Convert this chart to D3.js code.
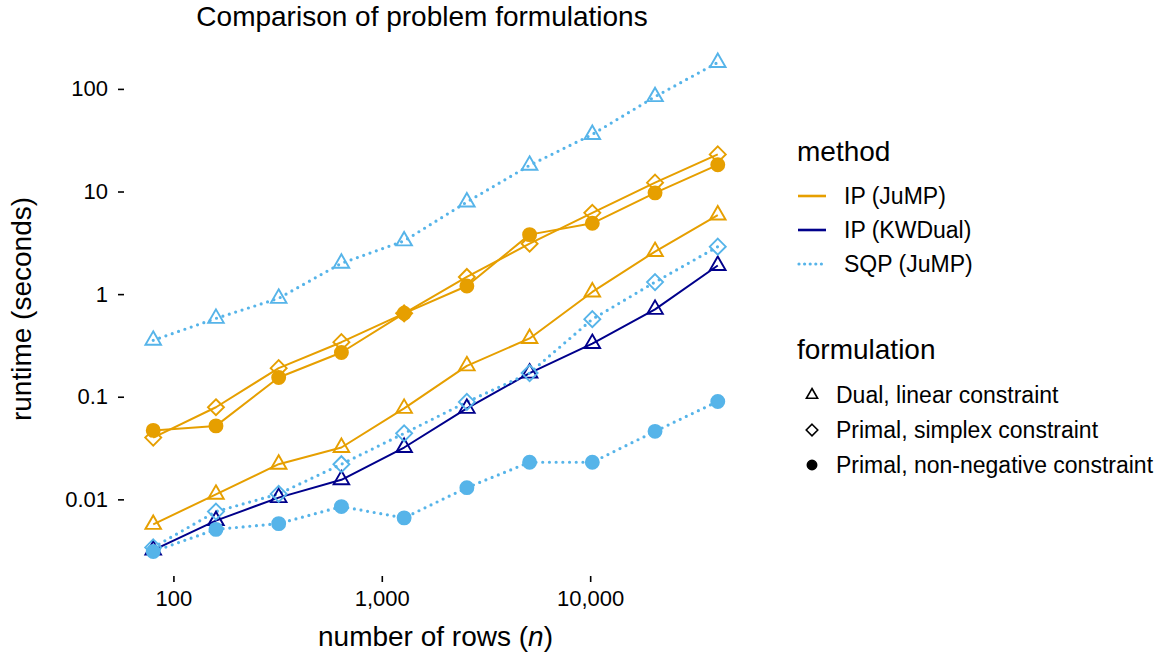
<!DOCTYPE html>
<html>
<head>
<meta charset="utf-8">
<script src="https://cdn.jsdelivr.net/npm/d3@7"></script>
<style>
  body { margin: 0; background: #fff; }
  svg text { font-family: "Liberation Sans", Arial, Helvetica, sans-serif; fill: #000; }
</style>
</head>
<body>
<div id="chart"></div>
<script>
const width = 1170
const height = 653

// number of rows n
const rows = [80, 160, 320, 640, 1280, 2560, 5120, 10240, 20480, 40960]

// runtime in seconds
const ipJumpDual     = [0.0057, 0.0112, 0.022, 0.032, 0.077, 0.20, 0.37, 1.05, 2.6, 5.9]
const ipJumpSimplex  = [0.040, 0.079, 0.19, 0.34, 0.65, 1.47, 3.1, 6.2, 12.2, 23]
const ipJumpNonneg   = [0.047, 0.052, 0.154, 0.27, 0.65, 1.2, 3.8, 4.9, 9.7, 18.2]
const ipKwDual       = [0.0032, 0.0062, 0.0104, 0.0155, 0.032, 0.077, 0.17, 0.33, 0.71, 1.9]
const sqpJumpDual    = [0.355, 0.58, 0.91, 2.0, 3.3, 7.9, 18, 36, 84, 181]
const sqpJumpSimplex = [0.0034, 0.0076, 0.0113, 0.022, 0.044, 0.089, 0.17, 0.57, 1.31, 2.9]
const sqpJumpNonneg  = [0.0031, 0.0051, 0.0058, 0.0085, 0.0066, 0.013, 0.023, 0.023, 0.046, 0.09]

const methods = ['IP (JuMP)', 'IP (KWDual)', 'SQP (JuMP)']
const formulations = ['Dual, linear constraint', 'Primal, simplex constraint', 'Primal, non-negative constraint']

const xTicks = [100, 1000, 10000]
const yTicks = [0.01, 0.1, 1, 10, 100]

const series = [
  { method: 'IP (JuMP)',   formulation: 'Dual, linear constraint',         values: ipJumpDual },
  { method: 'IP (JuMP)',   formulation: 'Primal, simplex constraint',      values: ipJumpSimplex },
  { method: 'IP (JuMP)',   formulation: 'Primal, non-negative constraint', values: ipJumpNonneg },
  { method: 'IP (KWDual)', formulation: 'Dual, linear constraint',         values: ipKwDual },
  { method: 'SQP (JuMP)',  formulation: 'Dual, linear constraint',         values: sqpJumpDual },
  { method: 'SQP (JuMP)',  formulation: 'Primal, simplex constraint',      values: sqpJumpSimplex },
  { method: 'SQP (JuMP)',  formulation: 'Primal, non-negative constraint', values: sqpJumpNonneg }
]

const panel = { left: 125, right: 746, top: 38, bottom: 576 }

const color = d3.scaleOrdinal().domain(methods).range(['#E69F00', '#00008B', '#56B4E9'])
const dash = d3.scaleOrdinal().domain(methods).range([null, null, '0 6.7'])
const lineWidth = d3.scaleOrdinal().domain(methods).range([2, 2, 3.2])

// log domain expanded by 5% each side, like ggplot does
const expandLog = (extent) => {
  const lo = Math.log10(extent[0]), hi = Math.log10(extent[1])
  const pad = (hi - lo) * 0.05
  return [Math.pow(10, lo - pad), Math.pow(10, hi + pad)]
}

const allValues = series.flatMap(s => s.values)
const x = d3.scaleLog().domain(expandLog(d3.extent(rows))).range([panel.left, panel.right])
const y = d3.scaleLog().domain(expandLog(d3.extent(allValues))).range([panel.bottom, panel.top])

const symbolPath = (formulation, s) => {
  if (formulation === 'Dual, linear constraint') {
    const r = s * 9
    return `M0,${-r}L${r * 0.866},${r / 2}L${-r * 0.866},${r / 2}Z`
  }
  if (formulation === 'Primal, simplex constraint') {
    const r = s * 8
    return `M0,${-r}L${r},0L0,${r}L${-r},0Z`
  }
  const r = s * 6.5
  return `M${r},0A${r},${r} 0 1,1 ${-r},0A${r},${r} 0 1,1 ${r},0Z`
}

const svg = d3.select('#chart').append('svg')
  .attr('width', width)
  .attr('height', height)

// title
svg.append('text')
  .attr('x', 422)
  .attr('y', 26)
  .attr('text-anchor', 'middle')
  .style('font-size', '28px')
  .text('Comparison of problem formulations')

// axes
const xAxis = d3.axisBottom(x)
  .tickValues(xTicks)
  .tickFormat(d3.format(','))
  .tickSize(6)
  .tickPadding(8)

const yAxis = d3.axisLeft(y)
  .tickValues(yTicks)
  .tickFormat(d => d3.format('~g')(d))
  .tickSize(6)
  .tickPadding(10)

const gx = svg.append('g')
  .attr('transform', `translate(0,${panel.bottom})`)
  .call(xAxis)
const gy = svg.append('g')
  .attr('transform', `translate(${panel.left - 1},0)`)
  .call(yAxis)

for (const g of [gx, gy]) {
  g.select('.domain').remove()
  g.selectAll('.tick line').attr('stroke', '#000').attr('stroke-width', 1.6)
  g.selectAll('.tick text')
    .attr('fill', '#000')
    .style('font-size', '22px')
    .style('font-family', '"Liberation Sans", Arial, sans-serif')
}

// axis titles
const xTitle = svg.append('text')
  .attr('x', (panel.left + panel.right) / 2)
  .attr('y', 646)
  .attr('text-anchor', 'middle')
  .style('font-size', '28px')
xTitle.append('tspan').text('number of rows (')
xTitle.append('tspan').style('font-style', 'italic').text('n')
xTitle.append('tspan').text(')')

svg.append('text')
  .attr('transform', `translate(31,${(panel.top + panel.bottom) / 2 + 2}) rotate(-90)`)
  .attr('text-anchor', 'middle')
  .style('font-size', '28px')
  .text('runtime (seconds)')

// lines
const line = d3.line()
  .x((d, i) => x(rows[i]))
  .y(d => y(d))

svg.append('g')
  .selectAll('path')
  .data(series)
  .enter()
  .append('path')
    .attr('d', d => line(d.values))
    .attr('fill', 'none')
    .attr('stroke', d => color(d.method))
    .attr('stroke-width', d => lineWidth(d.method))
    .attr('stroke-linecap', d => d.method === 'SQP (JuMP)' ? 'round' : 'butt')
    .attr('stroke-linejoin', 'round')
    .attr('stroke-dasharray', d => dash(d.method))

// points
const points = series.flatMap(s => s.values.map((v, i) => ({
  method: s.method, formulation: s.formulation, n: rows[i], value: v
})))

svg.append('g')
  .selectAll('path')
  .data(points)
  .enter()
  .append('path')
    .attr('transform', d => `translate(${x(d.n)},${y(d.value)})`)
    .attr('d', d => symbolPath(d.formulation, 1))
    .attr('fill', d => d.formulation === 'Primal, non-negative constraint' ? color(d.method) : 'none')
    .attr('stroke', d => color(d.method))
    .attr('stroke-width', 1.9)

// legend: method
const legend = svg.append('g')

legend.append('text')
  .attr('x', 797)
  .attr('y', 161)
  .style('font-size', '28px')
  .text('method')

const methodKeys = legend.selectAll('.mkey')
  .data(methods)
  .enter()
  .append('g')
    .attr('class', 'mkey')
    .attr('transform', (d, i) => `translate(0,${196 + i * 34})`)

methodKeys.append('line')
  .attr('x1', d => d === 'SQP (JuMP)' ? 799 : 798)
  .attr('x2', 826)
  .attr('stroke', d => color(d))
  .attr('stroke-width', d => d === 'SQP (JuMP)' ? 3.2 : 2.6)
  .attr('stroke-linecap', d => d === 'SQP (JuMP)' ? 'round' : 'butt')
  .attr('stroke-dasharray', d => d === 'SQP (JuMP)' ? '0 5.6' : null)

methodKeys.append('text')
  .attr('x', 844)
  .attr('dy', '0.36em')
  .style('font-size', '23px')
  .text(d => d)

// legend: formulation
legend.append('text')
  .attr('x', 797)
  .attr('y', 359)
  .style('font-size', '28px')
  .text('formulation')

const formKeys = legend.selectAll('.fkey')
  .data(formulations)
  .enter()
  .append('g')
    .attr('class', 'fkey')
    .attr('transform', (d, i) => `translate(0,${395 + i * 35})`)

formKeys.append('path')
  .attr('transform', 'translate(812,0)')
  .attr('d', d => symbolPath(d, 0.72))
  .attr('fill', d => d === 'Primal, non-negative constraint' ? '#000' : 'none')
  .attr('stroke', '#000')
  .attr('stroke-width', 1.6)

formKeys.append('text')
  .attr('x', 836)
  .attr('dy', '0.36em')
  .style('font-size', '23px')
  .text(d => d)
</script>
</body>
</html>
